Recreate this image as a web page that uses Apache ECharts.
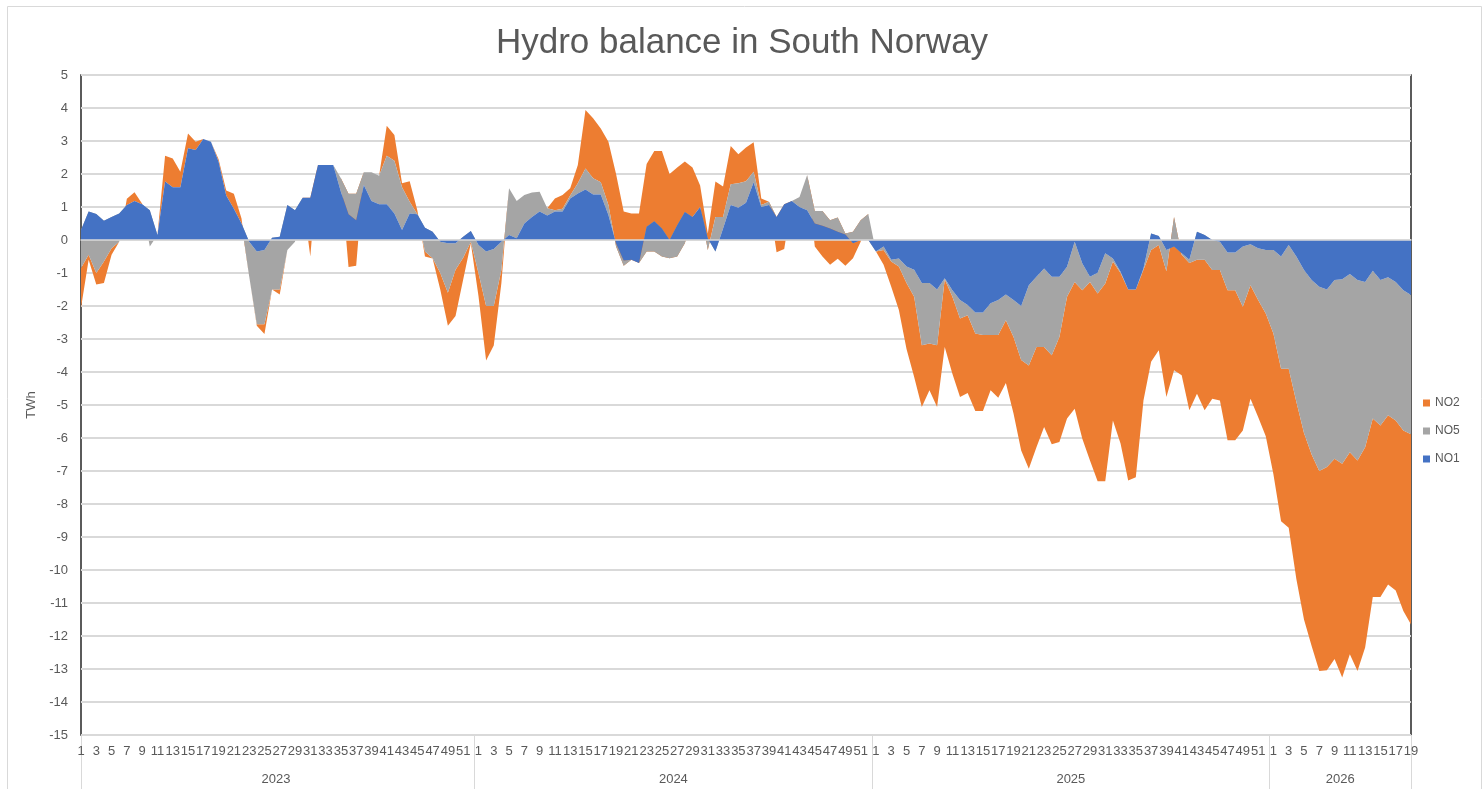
<!DOCTYPE html>
<html>
<head>
<meta charset="utf-8">
<title>Hydro balance in South Norway</title>
<script src="https://cdn.jsdelivr.net/npm/echarts@6/dist/echarts.min.js"></script>
<style>
  html, body { margin: 0; padding: 0; background: #fff; }
  #chart { width: 1484px; height: 789px; }
</style>
</head>
<body>
<div id="chart"></div>
<script>
const years = ["2023", "2024", "2025", "2026"];
const weeksPerYear = [52, 52, 52, 19];

// weekly values, TWh (2023 w1 .. 2026 w19)
const NO1 = [
  0.3, 0.86, 0.79, 0.58, 0.7, 0.8, 1.06, 1.18, 1.08, 0.9,
  0.15, 1.77, 1.6, 1.6, 2.78, 2.73, 3.06, 2.98, 2.37, 1.35,
  0.95, 0.5, -0.05, -0.35, -0.3, 0.07, 0.1, 1.06, 0.9, 1.28,
  1.28, 2.27, 2.27, 2.27, 1.46, 0.78, 0.6, 1.67, 1.18, 1.08,
  1.08, 0.8, 0.3, 0.8, 0.78, 0.37, 0.25, -0.05, -0.1, -0.1,
  0.1, 0.27,
  -0.15, -0.35, -0.27, -0.05, 0.15, 0.05, 0.5, 0.7, 0.86, 0.74,
  0.86, 0.86, 1.26, 1.41, 1.53, 1.38, 1.38, 0.76, -0.1, -0.62,
  -0.6, -0.7, 0.4, 0.57, 0.35, 0, 0.45, 0.85, 0.7, 1.0,
  0.05, -0.35, 0.35, 1.06, 0.98, 1.13, 1.75, 1.0, 1.06, 0.7,
  1.08, 1.18, 1.0, 0.9, 0.5, 0.43, 0.35, 0.25, 0.17, -0.1,
  0, 0,
  -0.35, -0.2, -0.6, -0.56, -0.8, -0.9, -1.3, -1.3, -1.5, -1.16,
  -1.52, -1.82, -1.97, -2.2, -2.2, -1.92, -1.82, -1.65, -1.82, -2.0,
  -1.37, -1.11, -0.86, -1.11, -1.11, -0.81, -0.05, -0.71, -1.11, -0.99,
  -0.4, -0.56, -0.96, -1.5, -1.5, -0.86, 0.2, 0.12, -0.3, -0.2,
  -0.4, -0.6, 0.25, 0.15, 0, -0.05, -0.38, -0.38, -0.2, -0.13,
  -0.25, -0.3,
  -0.3, -0.5, -0.15, -0.5, -0.91, -1.21, -1.42, -1.5, -1.21, -1.19,
  -1.03, -1.21, -1.27, -0.93, -1.21, -1.13, -1.27, -1.52, -1.67
];
const NO5 = [
  -1.15, -1.31, -1.79, -1.23, -0.95, -0.85, 0, 0, 0, -1.1,
  0, 0, 0, 0, 0, 0, 0, 0, 0, 0,
  0, 0, -1.05, -2.2, -2.25, -1.57, -1.6, -1.36, -0.95, 0,
  0, 0, 0, 0, 0.41, 0.62, 0.8, 0.38, 0.87, 0.87,
  1.47, 1.6, 1.3, 0.36, 0, -0.72, -0.8, -0.95, -1.5, -0.8,
  -0.64, -0.32,
  -0.85, -1.65, -1.73, -0.85, 1.42, 1.13, 0.86, 0.74, 0.6, 0.22,
  0.04, 0.09, 0.09, 0.31, 0.64, 0.49, 0.37, 0.3, -0.1, -0.16,
  0, 0, -0.75, -0.92, -0.85, -0.55, -0.95, -0.95, 0, 0,
  -0.35, 1.05, 0.35, 0.63, 0.74, 0.65, 0.32, 0.06, 0.1, 0,
  0, 0, 0.3, 1.07, 0.38, 0.45, 0.25, 0.43, 0.03, 0.35,
  0.6, 0.79,
  0, -0.1, -0.05, -0.24, -0.5, -0.82, -1.89, -1.84, -1.69, -0.03,
  -0.2, -0.56, -0.31, -0.63, -0.68, -0.96, -1.06, -0.78, -1.12, -1.64,
  -2.43, -2.13, -2.38, -2.38, -1.83, -0.91, -1.22, -0.81, -0.16, -0.63,
  -0.92, -0.09, -0.04, 0, 0, -0.04, -0.5, -0.27, -0.65, 0.9,
  -0.05, -0.1, -0.85, -0.75, -0.91, -0.86, -1.14, -1.14, -1.82, -1.24,
  -1.57, -1.93,
  -2.53, -3.4, -3.75, -4.4, -4.94, -5.29, -5.58, -5.38, -5.42, -5.59,
  -5.4, -5.47, -5.01, -4.48, -4.41, -4.18, -4.2, -4.25, -4.22
];
const NO2 = [
  -1.2, -0.15, -0.35, -0.65, -0.2, 0, 0.19, 0.27, 0.02, 0,
  0, 0.78, 0.87, 0.47, 0.45, 0.25, 0, 0, 0.08, 0.15,
  0.45, 0.15, 0, -0.05, -0.3, 0, -0.15, 0, 0, 0,
  -1.78, 0, 0, 0, 0, -2.22, -2.18, 0, 0, 0,
  0.91, 0.78, 0.12, 0.62, 0.12, -0.15, -0.01, -0.5, -1.0, -1.4,
  -0.66, -0.05,
  -0.7, -1.65, -1.2, -0.4, 0, 0, 0, 0, 0, 0,
  0.36, 0.41, 0.22, 0.55, 1.77, 1.82, 1.63, 1.92, 2.2, 1.64,
  1.4, 1.5, 2.65, 3.05, 3.2, 2.55, 2.7, 2.48, 1.5, 0.65,
  0.5, 1.07, 0.92, 1.16, 0.88, 1.02, 0.89, 0.2, 0, -1.07,
  -1.35, 0, 0, 0, -1.08, -1.38, -1.35, -1.25, -0.98, -0.8,
  -0.65, 0,
  0, -0.45, -0.77, -1.32, -2.0, -2.43, -1.87, -1.41, -1.87, -2.05,
  -2.33, -2.38, -2.36, -2.35, -2.3, -1.67, -1.9, -1.9, -2.32, -2.74,
  -3.13, -3.04, -2.43, -2.7, -3.18, -3.69, -3.84, -4.5, -5.41, -5.69,
  -5.99, -4.82, -5.17, -5.79, -5.69, -3.96, -3.39, -3.19, -3.81, -4.65,
  -3.65, -4.46, -4.06, -4.56, -3.9, -3.95, -4.55, -4.55, -3.75, -3.44,
  -3.54, -3.72,
  -4.27, -4.62, -4.82, -5.37, -5.65, -5.8, -6.06, -6.16, -6.07, -6.48,
  -6.12, -6.38, -6.07, -5.41, -5.2, -5.13, -5.15, -5.47, -5.76
];

// week number labels, one per data point
const weeks = [];
weeksPerYear.forEach((n) => {
  for (let w = 1; w <= n; w++) weeks.push(String(w));
});
const last = weeks.length - 1;

// year boundaries (between two weeks) and centres, in category index units
const bounds = [];
let s = 0;
weeksPerYear.forEach((n) => {
  bounds.push(s - 0.5);
  s += n;
});
bounds.push(s - 0.5);
const yearMid = years.map((y, k) => (bounds[k] + Math.min(bounds[k + 1], last)) / 2);
const yearTicks = [0].concat(bounds.slice(1, -1), [last]);

const grey = "#595959";
const font = "Liberation Sans";

const chart = echarts.init(document.getElementById("chart"));

function area(name, data, color, z) {
  return {
    name: name,
    type: "line",
    stack: "total",
    stackStrategy: "all",
    data: data,
    symbol: "none",
    z: z,
    lineStyle: { width: 0 },
    itemStyle: { color: color },
    areaStyle: { color: color, opacity: 1 },
    emphasis: { disabled: true },
  };
}

chart.setOption({
  animation: false,
  textStyle: { fontFamily: font },
  title: {
    text: "Hydro balance in South Norway",
    left: "center",
    top: 21,
    textStyle: { fontSize: 35, fontWeight: "normal", color: grey, fontFamily: font },
  },
  legend: {
    data: ["NO2", "NO5", "NO1"],
    orient: "vertical",
    left: 1418,
    top: 392,
    icon: "rect",
    itemWidth: 7,
    itemHeight: 7,
    itemGap: 16,
    textStyle: { color: grey, fontSize: 12, fontFamily: font },
  },
  graphic: [
    {
      type: "rect",
      left: 5,
      top: 4,
      shape: { width: 1474, height: 800 },
      style: { fill: "none", stroke: "#d9d9d9", lineWidth: 1 },
      silent: true,
    },
  ],
  grid: {
    left: 81,
    right: 73,
    top: 75,
    bottom: 54,
    show: true,
    borderColor: "#262626",
    borderWidth: 1.5,
    outerBoundsMode: "none",
  },
  xAxis: [
    {
      // week numbers
      type: "category",
      data: weeks,
      boundaryGap: false,
      position: "bottom",
      axisLine: { show: false, onZero: false },
      axisTick: { show: false },
      axisLabel: { interval: 1, color: grey, fontSize: 13, margin: 10 },
      splitLine: { show: false },
    },
    {
      // year row with separators
      type: "value",
      min: 0,
      max: last,
      position: "bottom",
      axisLine: { show: false, onZero: false },
      axisTick: {
        show: true,
        length: 54,
        customValues: yearTicks,
        lineStyle: { color: "#d9d9d9", width: 1 },
      },
      axisLabel: {
        customValues: yearMid,
        margin: 38,
        color: grey,
        fontSize: 13,
        formatter: (v) => {
          let k = 0;
          yearMid.forEach((m, j) => {
            if (Math.abs(m - v) < Math.abs(yearMid[k] - v)) k = j;
          });
          return years[k];
        },
      },
      splitLine: { show: false },
    },
    {
      // horizontal axis line through zero
      type: "category",
      data: weeks,
      boundaryGap: false,
      z: 10,
      axisLine: { show: true, onZero: true, lineStyle: { color: "#d9d9d9", width: 1.5 } },
      axisTick: { show: false },
      axisLabel: { show: false },
      splitLine: { show: false },
    },
  ],
  yAxis: {
    type: "value",
    min: -15,
    max: 5,
    interval: 1,
    name: "TWh",
    nameLocation: "middle",
    nameGap: 40,
    nameTextStyle: { color: grey, fontSize: 13 },
    axisLine: { show: false, onZero: false },
    axisTick: { show: false },
    axisLabel: { color: grey, fontSize: 13, margin: 13 },
    splitLine: { lineStyle: { color: "#d9d9d9", width: 2 } },
  },
  series: [
    area("NO1", NO1, "#4472C4", 4),
    area("NO5", NO5, "#A5A5A5", 3),
    area("NO2", NO2, "#ED7D31", 2),
  ],
});
</script>
</body>
</html>
